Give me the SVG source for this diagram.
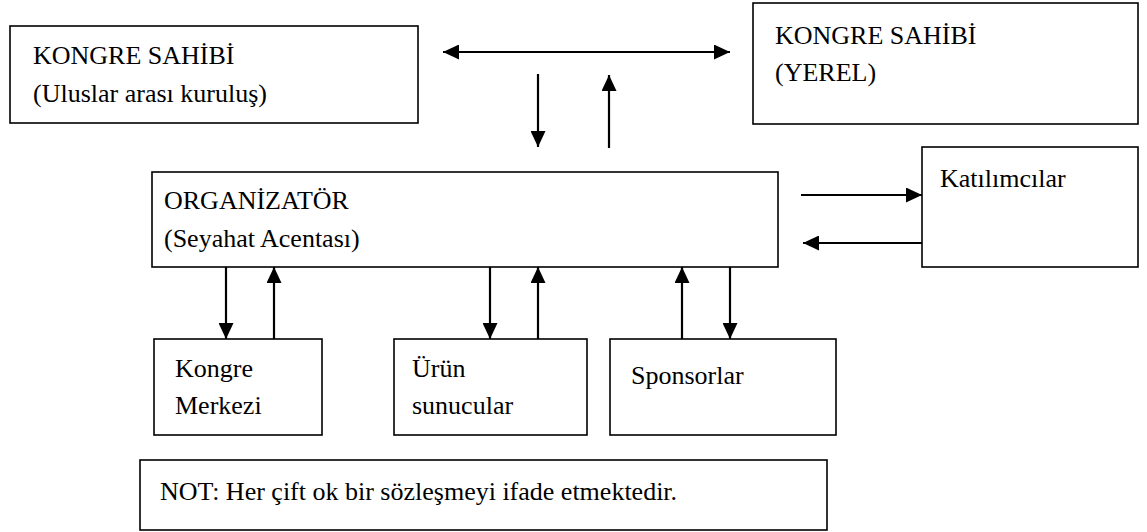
<svg xmlns="http://www.w3.org/2000/svg" width="1147" height="532" viewBox="0 0 1147 532">
<style>
.box{fill:#fff;stroke:#000;stroke-width:1.6}
.t{font-family:"Liberation Serif","Times New Roman",serif;font-size:26px;fill:#000}
.c{stroke:#000;stroke-width:2.2;fill:none;marker-end:url(#ah)}
</style>
<defs>
<marker id="ah" markerUnits="userSpaceOnUse" markerWidth="16" markerHeight="15" refX="16" refY="7.5" orient="auto-start-reverse"><path d="M0,0 L16,7.5 L0,15 z" fill="#000"/></marker>
</defs>
<rect width="1147" height="532" fill="#fff"/>
<g id="n-sahibi-ulus"><rect class="box" x="10" y="26" width="408" height="97"/><text class="t" x="33" y="64">KONGRE SAHİBİ</text><text class="t" x="33" y="102">(Uluslar arası kuruluş)</text></g>
<g id="n-sahibi-yerel"><rect class="box" x="753" y="3" width="385" height="121"/><text class="t" x="775" y="44">KONGRE SAHİBİ</text><text class="t" x="775" y="81">(YEREL)</text></g>
<g id="n-organizator"><rect class="box" x="152" y="172" width="626" height="95"/><text class="t" x="164" y="209">ORGANİZATÖR</text><text class="t" x="164" y="247">(Seyahat Acentası)</text></g>
<g id="n-katilimcilar"><rect class="box" x="922" y="147" width="216" height="120"/><text class="t" x="940" y="187">Katılımcılar</text></g>
<g id="n-kongre-merkezi"><rect class="box" x="154" y="339" width="168" height="96"/><text class="t" x="175" y="377">Kongre</text><text class="t" x="175" y="414">Merkezi</text></g>
<g id="n-urun"><rect class="box" x="394" y="339" width="193" height="96"/><text class="t" x="412" y="377">Ürün</text><text class="t" x="412" y="414">sunucular</text></g>
<g id="n-sponsorlar"><rect class="box" x="610" y="339" width="226" height="96"/><text class="t" x="631" y="384">Sponsorlar</text></g>
<g id="n-not"><rect class="box" x="140" y="460" width="687" height="70"/><text class="t" x="160" y="500">NOT: Her çift ok bir sözleşmeyi ifade etmektedir.</text></g>
<g id="connectors">
<path class="c" d="M443,52 H730" style="marker-start:url(#ah)"/>
<path class="c" d="M538,74 V147"/>
<path class="c" d="M609,148 V75"/>
<path class="c" d="M801,195 H922"/>
<path class="c" d="M922,243 H803"/>
<path class="c" d="M226,267 V339"/>
<path class="c" d="M274,339 V267"/>
<path class="c" d="M490,267 V339"/>
<path class="c" d="M538,339 V267"/>
<path class="c" d="M682,339 V267"/>
<path class="c" d="M730,267 V339"/>
</g>
</svg>
